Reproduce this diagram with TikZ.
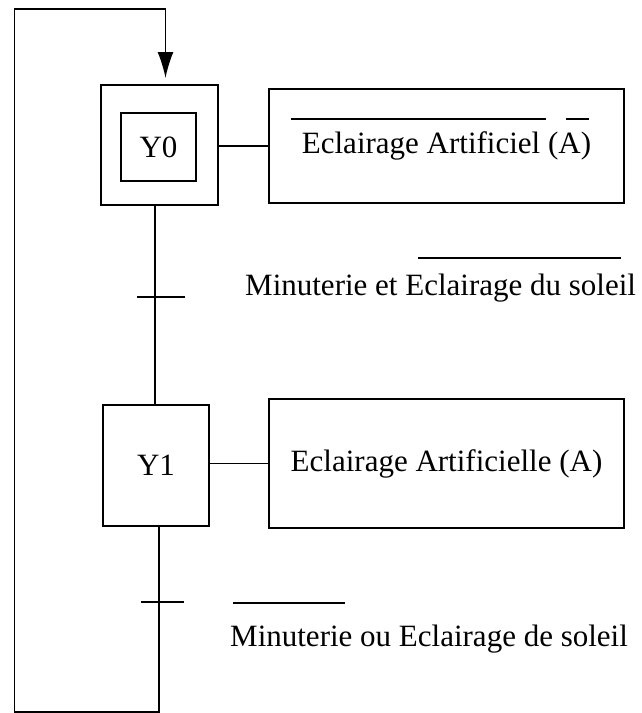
\documentclass[tikz,border=0pt]{standalone}
\usepackage{fontspec}
\setmainfont{Liberation Serif}
\usetikzlibrary{arrows.meta}
\begin{document}
\begin{tikzpicture}[x=1pt,y=-1pt,
  every node/.style={font=\fontsize{31}{37}\selectfont},
  box/.style={draw,line width=1.5pt,inner sep=0pt},
  line/.style={line width=1.5pt},
  bar/.style={line width=1.8pt},
  over/.style={line width=1.3pt}]
\useasboundingbox (0,0) rectangle (641,713);

% initial step Y0 (double frame) and its action
\node[box,minimum width=117pt,minimum height=120pt] (y0) at (159.5,145) {};
\node[box,minimum width=75pt,minimum height=68pt] (y0in) at (158.5,147) {Y0};
\node[box,minimum width=355pt,minimum height=114pt] (a0) at (446.5,146) {Eclairage Artificiel (A)};
\draw[line] (y0.east |- a0.west) -- (a0.west);
\draw[over] (291,119) -- (546,119);
\draw[over] (566,119) -- (589,119);

% step Y1 and its action
\node[box,minimum width=106pt,minimum height=121pt] (y1) at (156,465.5) {Y1};
\node[box,minimum width=355pt,minimum height=129pt] (a1) at (446.5,463.5) {Eclairage Artificielle (A)};
\draw[line] (y1.east |- a1.west) -- (a1.west);

% transition Y0 -> Y1
\coordinate (t0) at (155,297);
\draw[line] (y0.south -| t0) -- (y1.north -| t0);
\draw[bar] (137,297) -- (185,297);
\node[anchor=base west,inner sep=0pt] (c0) at (245,295) {Minuterie et Eclairage du soleil};
\draw[over] (418,258) -- (621,258);

% transition Y1 -> Y0 (loop back)
\coordinate (t1) at (159,602);
\coordinate (br) at (159,712);
\coordinate (bl) at (14.5,712);
\coordinate (tl) at (14.5,9);
\coordinate (tr) at (165.5,9);
\coordinate (tip) at (165.5,78);
\draw[line,-{Latex[length=26pt,width=16pt]}] (y1.south -| t1) -- (br) -- (bl) -- (tl) -- (tr) -- (tip);
\draw[bar] (141,602) -- (184,602);
\node[anchor=base west,inner sep=0pt] (c1) at (230,646) {Minuterie ou Eclairage de soleil};
\draw[over] (233,603) -- (345,603);
\end{tikzpicture}
\end{document}
